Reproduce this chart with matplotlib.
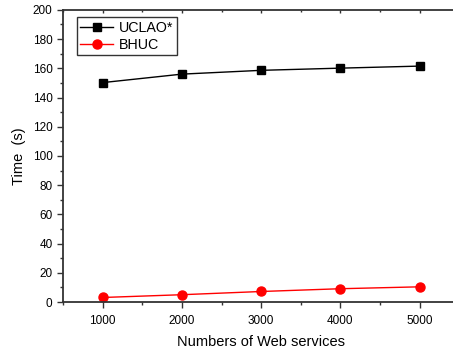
import matplotlib
matplotlib.use("Agg")
import matplotlib.pyplot as plt
from matplotlib.ticker import MultipleLocator

plt.rcParams['font.family'] = ['Liberation Sans', 'DejaVu Sans']

services = [1000, 2000, 3000, 4000, 5000]
uclao = [150.2, 156.0, 158.6, 160.1, 161.5]
bhuc = [3.1, 5.0, 7.2, 9.1, 10.4]

fig = plt.figure(figsize=(4.53, 3.52), dpi=100)
# the right spine sits just past the figure edge
ax = fig.add_axes([0.139, 0.142, 0.875, 0.830])

ax.plot(services, uclao, color='black', marker='s', markersize=6, linewidth=1.0, label='UCLAO*')
ax.plot(services, bhuc, color='red', marker='o', markersize=6.5, linewidth=1.0, label='BHUC')

ax.set_xlim(500, 5500)
ax.set_ylim(0, 200)
ax.xaxis.set_major_locator(MultipleLocator(1000))
ax.xaxis.set_minor_locator(MultipleLocator(500))
ax.yaxis.set_major_locator(MultipleLocator(20))
ax.yaxis.set_minor_locator(MultipleLocator(10))

for s in ax.spines.values():
    s.set_linewidth(1.3)
    s.set_color('#333333')

ax.tick_params(axis='both', which='major', direction='out', length=4, width=1.0,
               labelsize=8.5, color='#333333')
ax.tick_params(axis='both', which='minor', direction='out', length=2.5, width=1.0, color='#333333')
ax.tick_params(axis='x', which='both', pad=5)

# small inward ticks along the top edge
top = ax.secondary_xaxis('top')
top.xaxis.set_major_locator(MultipleLocator(1000))
top.xaxis.set_minor_locator(MultipleLocator(500))
top.tick_params(which='major', direction='in', length=2.5, width=1.0, labeltop=False, color='#333333')
top.tick_params(which='minor', direction='in', length=1.5, width=1.0, color='#333333')
top.spines['top'].set_visible(False)

ax.set_xlabel('Numbers of Web services', fontsize=10.5, labelpad=6)
ax.set_ylabel('Time  (s)', fontsize=10.5, labelpad=5)

leg = ax.legend(loc='upper left', bbox_to_anchor=(0.027, 0.985), fontsize=10.3, frameon=True,
                fancybox=False, edgecolor='black', borderpad=0.25, handlelength=2.3,
                handletextpad=0.4, labelspacing=0.2, borderaxespad=0.2)
leg.get_frame().set_linewidth(1.0)

fig.savefig('out.png', dpi=100)
